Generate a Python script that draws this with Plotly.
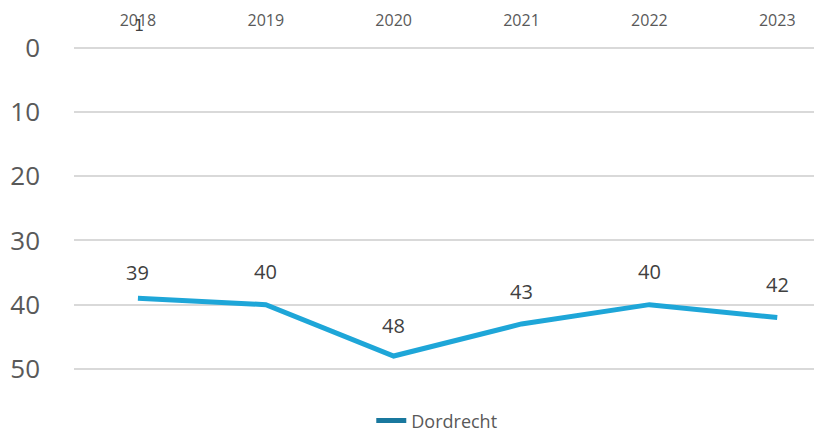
import plotly.graph_objects as go

years = ["2018", "2019", "2020", "2021", "2022", "2023"]
values = [39, 40, 48, 43, 40, 42]
series_name = "Dordrecht"
y_ticks = [0, 10, 20, 30, 40, 50]

# vertical offsets (px) of the data labels above their points
label_shift = [26, 33, 31, 32, 33, 33]

xs = list(range(len(years)))
FONT = "Open Sans, DejaVu Sans, sans-serif"

fig = go.Figure()
fig.add_trace(go.Scatter(
    x=xs, y=values, mode="lines", showlegend=False,
    line=dict(color="#1ea6d8", width=5), hoverinfo="skip",
))
fig.add_trace(go.Scatter(
    x=[None], y=[None], mode="lines", name=series_name,
    line=dict(color="#19789e", width=5),
))

for x, v, s in zip(xs, values, label_shift):
    fig.add_annotation(x=x, y=v, text=str(v), showarrow=False, yshift=s,
                       font=dict(family=FONT, size=20, color="#404040"))

fig.add_annotation(x=0, y=1.0, xref="x", yref="paper", text="1", showarrow=False,
                   yshift=26, xshift=1,
                   font=dict(family="DejaVu Sans, sans-serif", size=16, color="#404040"))

# page body has an 8px margin, so the figure is 8px smaller than the window
fig.update_layout(
    width=814, height=423,
    margin=dict(l=66, r=0, t=32, b=30, autoexpand=False),
    paper_bgcolor="white", plot_bgcolor="white",
    showlegend=True,
    legend=dict(orientation="h", x=0.485, xanchor="center", y=-0.055, yanchor="middle",
                font=dict(family=FONT, size=18, color="#595959")),
    xaxis=dict(
        side="top", tickvals=xs, ticktext=years, range=[-0.5, 5.35],
        showgrid=False, zeroline=False, showline=False, ticks="",
        tickfont=dict(family=FONT, size=16, color="#595959"),
        ticklabelstandoff=10, automargin=False,
    ),
    yaxis=dict(
        range=[55, -1.2], tickvals=y_ticks,
        showgrid=True, gridcolor="#d9d9d9", gridwidth=1.5, zeroline=False, showline=False,
        ticks="",
        tickfont=dict(family=FONT, size=26, color="#595959"),
        ticklabelstandoff=33, automargin=False,
    ),
)

fig.write_html("out.html")
